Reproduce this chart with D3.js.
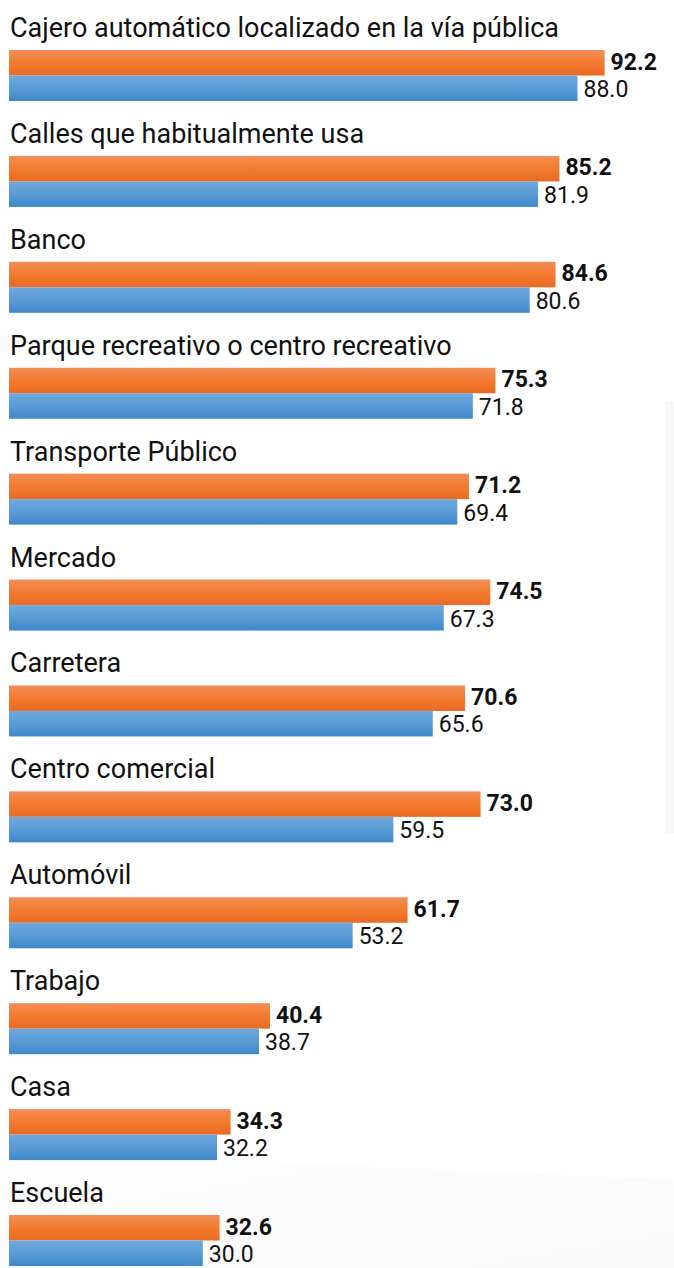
<!DOCTYPE html>
<html lang="es">
<head>
<meta charset="UTF-8">
<title>Percepción de inseguridad por lugar</title>
<style>
  body {
    margin: 0;
    background-color: #fff;
  }
  #graph {
    width: 674px;
    height: 1268px;
  }
  .cat {
    font: 27px Roboto, sans-serif;
    fill: #111;
  }
  .val {
    font: 23px Roboto, sans-serif;
    fill: #111;
  }
  .val.bold {
    font-weight: bold;
  }
</style>
</head>
<body>
<div id="graph">
  <svg class="chart"></svg>
</div>
<script src="https://d3js.org/d3.v7.min.js"></script>
<script>
var categories = [
  "Cajero automático localizado en la vía pública",
  "Calles que habitualmente usa",
  "Banco",
  "Parque recreativo o centro recreativo",
  "Transporte Público",
  "Mercado",
  "Carretera",
  "Centro comercial",
  "Automóvil",
  "Trabajo",
  "Casa",
  "Escuela"
];
// orange series (bold labels)
var seriesA = [92.2, 85.2, 84.6, 75.3, 71.2, 74.5, 70.6, 73.0, 61.7, 40.4, 34.3, 32.6];
// blue series
var seriesB = [88.0, 81.9, 80.6, 71.8, 69.4, 67.3, 65.6, 59.5, 53.2, 38.7, 32.2, 30.0];

var totalWidth = 674,
  totalHeight = 1268;

var barH = 25.5;

var svg = d3.select(".chart")
  .attr("width", totalWidth)
  .attr("height", totalHeight);

// gradients for the bars
var defs = svg.append("defs");
function grad(id, top, mid, bottom) {
  var g = defs.append("linearGradient")
    .attr("id", id)
    .attr("x1", 0).attr("y1", 0)
    .attr("x2", 0).attr("y2", 1);
  g.append("stop").attr("offset", "0%").attr("stop-color", top);
  g.append("stop").attr("offset", "50%").attr("stop-color", mid);
  g.append("stop").attr("offset", "100%").attr("stop-color", bottom);
}
grad("gOrange", "#f38d56", "#f27b2f", "#ea6a23");
grad("gBlue", "#6fa8dc", "#5a9bd6", "#3d88c9");

var bgGrad = defs.append("linearGradient")
  .attr("id", "gBg")
  .attr("x1", 0).attr("y1", 0)
  .attr("x2", 1).attr("y2", 1);
bgGrad.append("stop").attr("offset", "0%").attr("stop-color", "#ffffff");
bgGrad.append("stop").attr("offset", "100%").attr("stop-color", "#f4f4f4");

// faint background bits
svg.append("path")
  .attr("d", "M0,1150 L674,1180 L674,1268 L0,1268 Z")
  .attr("fill", "url(#gBg)")
  .attr("opacity", 0.6);
svg.append("rect")
  .attr("x", 665)
  .attr("y", 402)
  .attr("width", 9)
  .attr("height", 431)
  .attr("fill", "#f7f7f7");

var x = d3.scaleLinear()
  .domain([0, 100])
  .range([9, 655]);

var y = d3.scalePoint()
  .domain(categories)
  .range([50, 1215]);

var row = svg.selectAll("g.row")
  .data(categories)
  .enter().append("g")
  .attr("class", "row")
  .attr("transform", function(d) {
    return "translate(0," + y(d) + ")";
  });

row.append("text")
  .attr("class", "cat")
  .attr("x", 10)
  .attr("y", -13)
  .text(function(d) { return d; });

row.append("rect")
  .attr("x", x(0))
  .attr("y", 0)
  .attr("height", barH)
  .attr("width", function(d, i) { return x(seriesA[i]) - x(0); })
  .attr("fill", "url(#gOrange)");

row.append("rect")
  .attr("x", x(0))
  .attr("y", barH)
  .attr("height", barH)
  .attr("width", function(d, i) { return x(seriesB[i]) - x(0); })
  .attr("fill", "url(#gBlue)");

row.append("text")
  .attr("class", "val bold")
  .attr("x", function(d, i) { return x(seriesA[i]) + 6; })
  .attr("y", barH - 6)
  .text(function(d, i) { return seriesA[i].toFixed(1); });

row.append("text")
  .attr("class", "val")
  .attr("x", function(d, i) { return x(seriesB[i]) + 6; })
  .attr("y", 2 * barH - 4)
  .text(function(d, i) { return seriesB[i].toFixed(1); });
</script>
</body>
</html>
